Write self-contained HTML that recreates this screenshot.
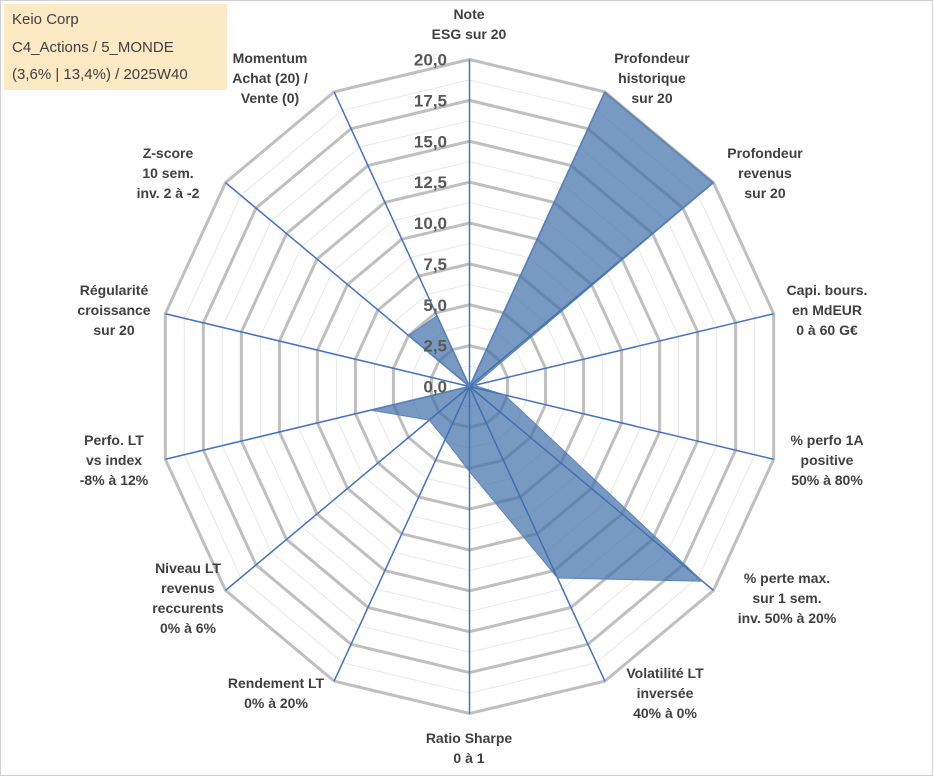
<!DOCTYPE html>
<html><head><meta charset="utf-8"><style>
body{margin:0;background:#fff;}
svg{display:block;font-family:"Liberation Sans",Arial,sans-serif;}
</style></head><body>
<svg id="chart" width="933" height="776" viewBox="0 0 933 776" xmlns="http://www.w3.org/2000/svg">
<rect x="0.5" y="0.5" width="932" height="775" fill="#fff" stroke="#d0d0d0"/>
<g id="grid"></g><g id="spokes"></g><g id="series"></g><g id="ticks"></g><g id="labels"></g>
<g>
<rect x="4" y="4" width="223" height="86" fill="#fde9c4"/>
<text x="12" y="24" font-size="15" fill="#404040">Keio Corp</text>
<text x="12" y="52" font-size="15" fill="#404040">C4_Actions / 5_MONDE</text>
<text x="12" y="79" font-size="15" fill="#404040">(3,6% | 13,4%) / 2025W40</text>
</g>
</svg>
<script>
const categories=[["Note","ESG sur 20"],["Profondeur","historique","sur 20"],["Profondeur","revenus","sur 20"],["Capi. bours.","en MdEUR","0 à 60 G€"],["% perfo 1A","positive","50% à 80%"],["% perte max.","sur 1 sem.","inv. 50% à 20%"],["Volatilité LT","inversée","40% à 0%"],["Ratio Sharpe","0 à 1"],["Rendement LT","0% à 20%"],["Niveau LT","revenus","reccurents","0% à 6%"],["Perfo. LT","vs index","-8% à 12%"],["Régularité","croissance","sur 20"],["Z-score","10 sem.","inv. 2 à -2"],["Momentum","Achat (20) /","Vente (0)"]];
const values=[0,20,20,0.3,2.3,19.1,13.0,5.2,3.6,3.3,6.5,0,5.0,4.8];
const tickLabels=["0,0","2,5","5,0","7,5","10,0","12,5","15,0","17,5","20,0"];
const maxVal=20;
const labelPos=[[469,14],[652,58],[765,153],[827,290],[827,440],[787,578],[665,673],[469,738],[276,683],[188,568],[114,440],[114,290],[168,153],[270,58]];

const NS="http://www.w3.org/2000/svg";
const cx=469.5,cy=386.5,RX=312,RY=327,N=categories.length;
function pt(i,v){const a=i*2*Math.PI/N;const f=v/maxVal;return [cx+f*RX*Math.sin(a),cy-f*RY*Math.cos(a)];}
function mk(tag,attrs,parent){const e=document.createElementNS(NS,tag);for(const k in attrs)e.setAttribute(k,attrs[k]);parent.appendChild(e);return e;}
const grid=document.getElementById('grid');
for(let s=1;s<=16;s++){
  const v=s*maxVal/16;const pts=[];
  for(let i=0;i<N;i++)pts.push(pt(i,v).join(','));
  const major=s%2===0;
  const p=mk('polygon',{points:pts.join(' '),fill:'none',stroke:major?'#bfbfbf':'#e8e8e8','stroke-width':major?3:1},grid);
  
  
}
const spokes=document.getElementById('spokes');
for(let i=0;i<N;i++){
  const [x,y]=pt(i,maxVal);
  const l=mk('line',{x1:cx,y1:cy,x2:x,y2:y,stroke:'#4472c4','stroke-width':1.5},spokes);
  
  
}
const series=document.getElementById('series');
const sp=values.map((v,i)=>pt(i,v).join(','));
const poly=mk('polygon',{points:sp.join(' '),fill:'#3f6fa8','fill-opacity':0.7,stroke:'#5b84b8','stroke-width':1},series);


const ticks=document.getElementById('ticks');
tickLabels.forEach((t,k)=>{
  const y=cy-(k*2.5/maxVal)*RY;
  const e=mk('text',{x:447,y:y+6,'text-anchor':'end','font-size':17,'font-weight':'bold',fill:'#595959'},ticks);
  e.textContent=t;
  
  
});
const labels=document.getElementById('labels');
categories.forEach((lines,i)=>{
  const [x,y]=labelPos[i];
  const t=mk('text',{x:x,'text-anchor':'middle','font-size':14,'font-weight':'bold',fill:'#404040'},labels);
  
  
  lines.forEach((ln,j)=>{const s=mk('tspan',{x:x,y:y+5+j*20},t);s.textContent=ln;});
});
</script>
</body></html>
